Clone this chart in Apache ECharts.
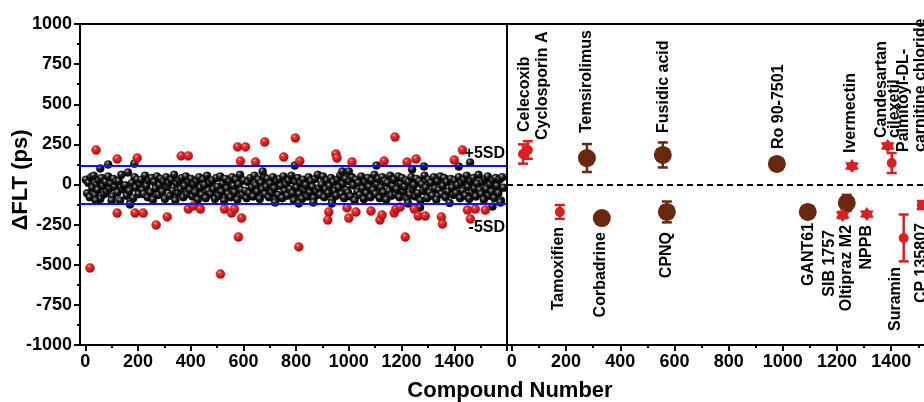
<!DOCTYPE html>
<html>
<head>
<meta charset="utf-8">
<script src="https://cdn.jsdelivr.net/npm/echarts@6/dist/echarts.min.js"></script>
<style>html,body{margin:0;padding:0;background:#fff}#c{width:924px;height:402px}</style>
</head>
<body>
<div id="c"></div>
<script>
// ---------------- DATA ----------------
// Left panel: screened compounds (compound number -> ΔFLT, ps)
const blackStart = 2, blackStep = 5; // sequential compound numbers
const blackValues = [
30,-55,10,-80,45,-20,55,-65,0,-35,25,-90,40,-10,-60,15,-45,50,-25,5,
-75,35,-15,20,-50,20,-100,60,-30,-10,-5,-70,75,-40,-105,10,-85,45,-20,30,
-60,0,30,-35,-60,55,-10,-80,25,-50,40,-95,15,-25,50,-65,-5,35,-45,20,
-90,45,-15,10,-70,30,-40,60,-100,5,-55,25,-30,40,-80,-10,50,-60,15,-35,
35,-75,0,-50,20,-95,45,-20,-65,30,-5,-85,55,-40,10,-60,25,-30,-90,40,
-15,-70,50,-45,5,-100,35,-25,-60,20,-80,45,-10,-50,30,-95,0,60,-35,-65,
25,-40,-85,15,-55,40,-20,-75,55,-5,-45,30,-90,10,-30,50,-60,-15,35,-80,
5,-50,45,-25,-95,20,-65,35,-10,-85,50,-40,0,-70,25,-30,55,-55,-100,15,
-20,40,-60,10,-90,30,-35,-5,-75,45,-50,20,-15,-85,35,-45,60,-25,-65,0,
50,-80,-30,25,-55,-10,40,-95,15,-40,-70,30,-20,55,-60,5,-85,35,-35,-50,
20,-75,45,-5,-100,30,-45,10,-65,50,-25,-90,15,-55,40,-15,-80,25,-35,60,
-60,0,35,-85,-20,45,-50,20,-95,10,-40,55,-70,-10,30,-60,-30,50,-80,5,
40,-45,-15,25,-90,15,-65,45,-30,-5,-75,35,-55,20,-100,0,-40,55,-20,-85,
30,-50,10,-70,45,-25,-95,20,-35,50,-60,-10,40,-80,15,-45,-115,35,-20,-65,
25,-55,-5,45,-85,10,-40,30,-70,55,-15,-90,20,-50,40,-25,-75,5,60,-35,
-60,15,-95,35,-30,50,-70,0,-45,25,-85,40,-10,-55,30,-100,45,-20
];
// black points lying near / beyond the ±5SD lines
const blackExtraX = [57,87,186,170,40,100,673,795,975,1000,1105,1240,1285,1417,1460,720,810,865,935,1225,1270,1545,1575];
const blackExtraY = [100,125,130,-124,-100,-100,81,118,81,81,118,93,112,112,137,-112,-118,-112,-118,-118,-143,-137,-112];
// hits (red)
const redX = [41,121,197,364,391,578,608,589,646,18,121,189,220,269,311,391,410,437,513,528,555,566,581,593,
  681,753,797,814,810,924,920,951,955,993,1000,1012,1027,1084,1118,1126,1134,1175,1172,1179,1195,1214,1221,1248,1255,1263,1290,1351,1355,1400,1431,1450,1461,1480,1518];
const redY = [215,159,165,178,178,234,234,146,140,-520,-178,-178,-178,-252,-202,-153,-134,-153,-558,-153,-178,-153,-327,-209,
  265,171,290,146,-389,-171,-221,190,165,-146,-209,140,-171,-165,-221,-190,146,296,-178,-153,-140,-327,140,-153,159,-196,-196,-202,-246,153,215,-159,-215,-153,-159];
const sdUpper = 115, sdLower = -122;
const sdUpperLabel = '+5SD', sdLowerLabel = '-5SD';

// Right panel: confirmed hits with error bars
const hitNames = ['Celecoxib','Cyclosporin A','Temsirolimus','Fusidic acid','Ro 90-7501','Ivermectin','Candesartan\ncilexetil','Palmitoyl-DL-\ncarnitine chloride',
  'Tamoxifien','Corbadrine','CPNQ','GANT61','SIB 1757','Oltipraz M2','NPPB','Suramin','CP 135807'];
const hitX   = [41,59,277,557,978,1255,1387,1402,177,332,572,1092,1221,1236,1310,1446,1513];
const hitY   = [190,215,165,184,128,115,240,134,-171,-209,-171,-171,-190,-115,-184,-333,-128];
const hitErr = [60,55,87,78,8,15,15,62,43,15,65,12,20,50,12,146,25];
const hitKind = ['red','red','brown','brown','brown','star','star','red','red','brown','brown','brown','star','brown','star','red','red'];

// Axis ticks
const yTicks = [-1000,-750,-500,-250,0,250,500,750,1000];
const xLabels = [0,200,400,600,800,1000,1200,1400];
const xMajorTicks = [0,200,400,600,800,1000,1200,1400,1600];
const xMinorTicks = [100,300,500,700,900,1100,1300,1500];

// ---------------- STYLE ----------------
const FONT = '"Liberation Sans", Arial, sans-serif';
const RED = '#d91f1f', BROWN = '#6a2710';
// label anchor offsets (screen px) from each hit marker
const labelOffset = [[2,-22],[15,-10],[0,-25],[1,-22],[2,-15],[-1,-13],[0,-8],[20,-11],
  [-1,15],[-1,14],[0,20],[1,11],[-13,15],[0,22],[0,11],[-8,29],[0,18]];
const labelLineHeight = {6:13, 7:17};
const STAR = 'path://M100,0 L130,48 L187,50 L160,100 L187,150 L130,152 L100,200 L70,152 L13,150 L40,100 L13,50 L70,48 Z';

const ballBlack = {type:'radial',x:0.38,y:0.32,r:0.7,colorStops:[{offset:0,color:'#e0e0e0'},{offset:0.15,color:'#606060'},{offset:0.45,color:'#121212'},{offset:1,color:'#000'}]};
const ballRed = {type:'radial',x:0.38,y:0.32,r:0.7,colorStops:[{offset:0,color:'#ffd0d0'},{offset:0.18,color:'#ee4040'},{offset:0.55,color:'#d41c1c'},{offset:1,color:'#a80c0c'}]};

const blackData = blackValues.map((v,i)=>[blackStart + i*blackStep, v]).concat(blackExtraX.map((x,i)=>[x, blackExtraY[i]]));
const redData = redX.map((x,i)=>[x, redY[i]]);

function hitItems(kind){
  const out = [];
  hitNames.forEach((n,i)=>{ if (hitKind[i] === kind) out.push({name:n, value:[hitX[i], hitY[i], hitErr[i]]}); });
  return out;
}
function errItems(color){
  const out = [];
  hitNames.forEach((n,i)=>{
    const c = hitKind[i]==='brown' ? 'brown' : 'red';
    if (c===color) out.push([hitX[i], hitY[i], hitErr[i]]);
  });
  return out;
}
function errRender(color){
  return function(params, api){
    const x = api.value(0), y = api.value(1), e = api.value(2);
    const t = api.coord([x, y+e]), b = api.coord([x, y-e]);
    const cap = 5, st = {stroke:color, lineWidth:2.5};
    return {type:'group', children:[
      {type:'line', shape:{x1:t[0],y1:t[1],x2:b[0],y2:b[1]}, style:st},
      {type:'line', shape:{x1:t[0]-cap,y1:t[1],x2:t[0]+cap,y2:t[1]}, style:st},
      {type:'line', shape:{x1:b[0]-cap,y1:b[1],x2:b[0]+cap,y2:b[1]}, style:st}
    ]};
  };
}

const axisLine = {show:true, onZero:false, lineStyle:{color:'#000', width:2}};
const fmt = v => String(v);
const tickLabel = {fontSize:18, fontWeight:'bold', fontFamily:FONT, color:'#000', formatter:fmt};
const RMIN = -18, RMAX = 1521;

const option = {
  animation:false,
  backgroundColor:'#fff',
  grid:[
    {left:80, top:24, width:427, height:321, show:true, borderColor:'#000', borderWidth:2, backgroundColor:'transparent'},
    {left:507, top:24, right:0, height:321, show:false}
  ],
  xAxis:[
    {gridIndex:0, type:'value', min:-20, max:1600, position:'bottom', axisLine,
     axisTick:{show:true, customValues:xMajorTicks, length:6, lineStyle:{width:2,color:'#000'}},
     axisLabel:Object.assign({customValues:xLabels, margin:8}, tickLabel), splitLine:{show:false}},
    {gridIndex:0, type:'value', min:-20, max:1600, position:'bottom', axisLine:{show:false, onZero:false},
     axisTick:{show:true, customValues:xMinorTicks, length:3, lineStyle:{width:2,color:'#000'}},
     axisLabel:{show:false}, splitLine:{show:false}},
    {gridIndex:1, type:'value', min:RMIN, max:RMAX, position:'bottom', axisLine,
     axisTick:{show:true, customValues:xLabels, length:6, lineStyle:{width:2,color:'#000'}},
     axisLabel:Object.assign({customValues:xLabels, margin:8}, tickLabel), splitLine:{show:false}},
    {gridIndex:1, type:'value', min:RMIN, max:RMAX, position:'bottom', axisLine:{show:false, onZero:false},
     axisTick:{show:true, customValues:xMinorTicks, length:3, lineStyle:{width:2,color:'#000'}},
     axisLabel:{show:false}, splitLine:{show:false}},
    {gridIndex:1, type:'value', min:RMIN, max:RMAX, position:'top', axisLine,
     axisTick:{show:false}, axisLabel:{show:false}, splitLine:{show:false}}
  ],
  yAxis:[
    {gridIndex:0, type:'value', min:-1000, max:1000, interval:250, position:'left', axisLine,
     axisTick:{show:true, length:6, lineStyle:{width:2,color:'#000'}},
     minorTick:{show:true, splitNumber:2, length:3, lineStyle:{width:2,color:'#000'}},
     axisLabel:Object.assign({margin:8}, tickLabel), splitLine:{show:false}},
    {gridIndex:1, type:'value', min:-1000, max:1000, interval:250, position:'left', axisLine,
     axisTick:{show:false}, axisLabel:{show:false}, splitLine:{show:false}}
  ],
  series:[
    {type:'scatter', xAxisIndex:0, yAxisIndex:0, data:blackData, symbolSize:8,
     itemStyle:{color:ballBlack, borderColor:'#000', borderWidth:0.4, opacity:1}, z:2,
     markLine:{silent:true, symbol:'none', animation:false,
       lineStyle:{color:'#1010ff', width:2, type:'solid'},
       data:[
         {yAxis:sdUpper, label:{show:true, formatter:sdUpperLabel, position:'insideEndTop', distance:[2,4], fontSize:16, fontWeight:'bold', fontFamily:FONT, color:'#000'}},
         {yAxis:sdLower, label:{show:true, formatter:sdLowerLabel, position:'insideEndBottom', distance:[2,16], fontSize:16, fontWeight:'bold', fontFamily:FONT, color:'#000'}}
       ]}},
    {type:'scatter', xAxisIndex:0, yAxisIndex:0, data:redData, symbolSize:9,
     itemStyle:{color:ballRed, borderColor:'#a00', borderWidth:0.4, opacity:1}, z:3},
    {type:'custom', xAxisIndex:2, yAxisIndex:1, data:errItems('brown'), renderItem:errRender(BROWN), z:2},
    {type:'custom', xAxisIndex:2, yAxisIndex:1, data:errItems('red'), renderItem:errRender(RED), z:2,
     markLine:{silent:true, symbol:'none', animation:false, label:{show:false},
       lineStyle:{color:'#000', width:2, type:[6,4]}, data:[{yAxis:0}]}},
    {type:'scatter', xAxisIndex:2, yAxisIndex:1, data:hitItems('brown'), symbolSize:18,
     itemStyle:{color:BROWN, opacity:1}, z:6},
    {type:'scatter', xAxisIndex:2, yAxisIndex:1, data:hitItems('red'), symbolSize:10,
     itemStyle:{color:RED, opacity:1}, z:7},
    {type:'scatter', xAxisIndex:2, yAxisIndex:1, data:hitItems('star'), symbol:STAR, symbolSize:14,
     itemStyle:{color:RED, opacity:1}, z:7}
  ]
};
const chart = echarts.init(document.getElementById('c'), null, {renderer:'canvas'});
chart.setOption(option);

// Titles and rotated hit labels (anchored to the hit markers through the axes)
const graphics = [
  {type:'text', x:510, y:391, style:{text:'Compound Number', font:'bold 22px '+FONT, fill:'#000', align:'center', verticalAlign:'middle'}},
  {type:'text', x:21, y:180, rotation:Math.PI/2, style:{text:'ΔFLT (ps)', font:'bold 22px '+FONT, fill:'#000', align:'center', verticalAlign:'middle'}}
];
hitNames.forEach((n,i)=>{
  const p = chart.convertToPixel({xAxisIndex:2, yAxisIndex:1}, [hitX[i], hitY[i]]);
  const up = hitY[i] > 0;
  graphics.push({type:'text', x:p[0]+labelOffset[i][0], y:p[1]+labelOffset[i][1], rotation:Math.PI/2, z:10,
    style:{text:n, font:'bold 16px '+FONT, fill:'#000', align: up ? 'left' : 'right', verticalAlign:'middle',
      lineHeight: labelLineHeight[i] || 18}});
});
chart.setOption({graphic: graphics});
</script>
</body>
</html>
